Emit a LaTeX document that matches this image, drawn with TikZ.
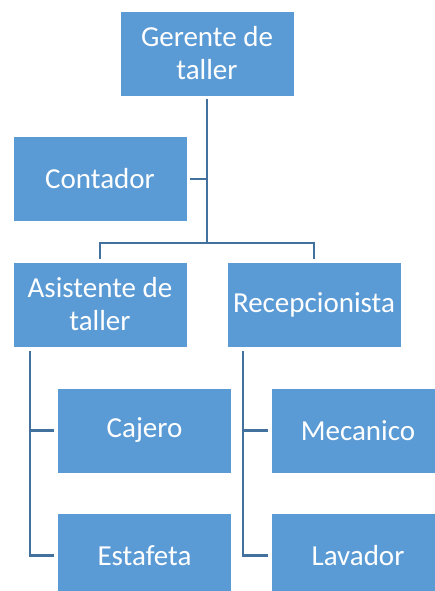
\documentclass[tikz,border=0pt]{standalone}
\usepackage{fontspec}
\setmainfont{Carlito}
\definecolor{boxfill}{HTML}{5B9BD5}
\definecolor{linecol}{HTML}{41719C}
\begin{document}
\begin{tikzpicture}[x=1pt,y=-1pt,
  box/.style={fill=boxfill, draw=white, line width=0.6pt, text=white, minimum width=174pt, minimum height=85pt, inner sep=0pt, align=center, font=\fontsize{29}{33}\selectfont},
  conn/.style={draw=linecol, line width=2.2pt}]
\useasboundingbox (0,0) rectangle (435,591);
\clip (0,0) rectangle (435,591);
\node[box] (ger) at (207,53.5) {Gerente de\\taller};
\node[box] (con) at (100,179) {Contador};
\node[box] (asi) at (100,304.5) {Asistente de\\taller};
\node[box] (rec) at (314,304.5) {Recepcionista};
\node[box] (caj) at (144.5,430.5) {Cajero};
\node[box] (est) at (144.5,555.5) {Estafeta};
\node[box] (mec) at (358,430.5) {Mecanico};
\node[box] (lav) at (358,555.5) {Lavador};
\coordinate (bus) at (207,243);
\coordinate (ltop) at (30,351);
\coordinate (rtop) at (243,351);
\draw[conn] ([yshift=-3pt]ger.south) -- (ger.south |- bus);
\draw[conn] ([xshift=3pt]con.east) -- (con.east -| ger.south);
\draw[conn] ([yshift=3pt]asi.north) -- (asi.north |- bus) -- (rec.north |- bus) -- ([yshift=3pt]rec.north);
\draw[conn] (ltop) |- ([xshift=-3pt]caj.west);
\draw[conn] (ltop) |- ([xshift=-3pt]est.west);
\draw[conn] (rtop) |- ([xshift=-3pt]mec.west);
\draw[conn] (rtop) |- ([xshift=-3pt]lav.west);
\end{tikzpicture}
\end{document}
